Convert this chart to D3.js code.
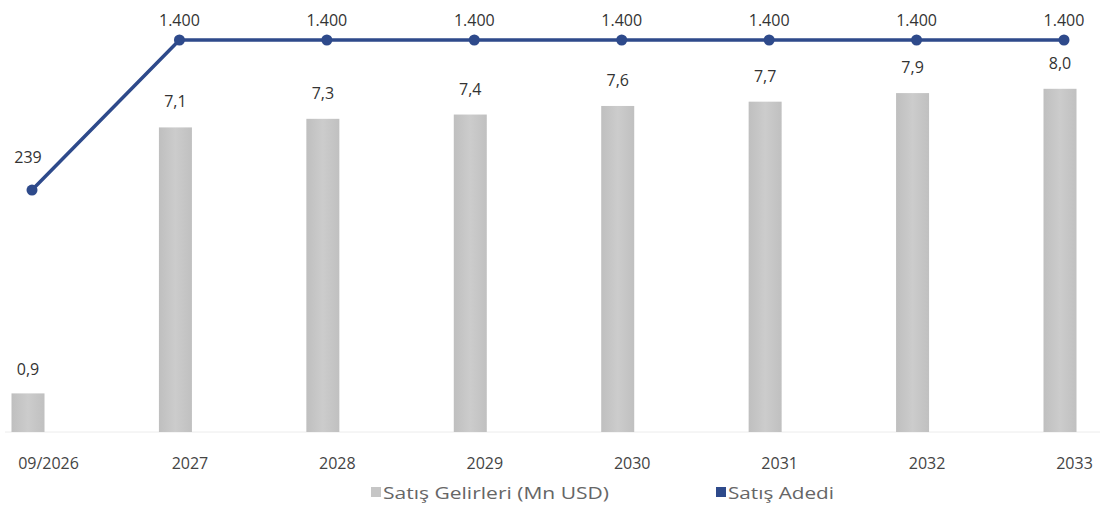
<!DOCTYPE html>
<html><head><meta charset="utf-8">
<script src="https://cdn.jsdelivr.net/npm/d3@7"></script>
<style>body{margin:0;background:#fff}svg{display:block}text{font-family:"Open Sans","Liberation Sans",sans-serif}</style>
</head><body><svg id="c" width="1114" height="510"></svg>
<script>
const categories = ["09/2026","2027","2028","2029","2030","2031","2032","2033"];
const revenue = [0.9,7.1,7.3,7.4,7.6,7.7,7.9,8.0];
const revenueLabels = ["0,9","7,1","7,3","7,4","7,6","7,7","7,9","8,0"];
const units = [239,1400,1400,1400,1400,1400,1400,1400];
const unitLabels = ["239","1.400","1.400","1.400","1.400","1.400","1.400","1.400"];
const legendNames = ["Satış Gelirleri (Mn USD)","Satış Adedi"];

const svg = d3.select("#c");
const x = d3.scalePoint().domain(categories).range([32, 1064]);
const yBar = d3.scaleLinear().domain([0, 10]).range([432, 3]);
const yLine = d3.scaleLinear().domain([0, 1400]).range([221, 40]);
const barW = 33;
const barColor = "#c6c6c6", lineColor = "#2e4a8b";

const defs = svg.append("defs");
const g = defs.append("linearGradient").attr("id","bg").attr("x1",0).attr("x2",1);
g.append("stop").attr("offset","0%").attr("stop-color","#bfbfbf");
g.append("stop").attr("offset","50%").attr("stop-color","#cccccc");
g.append("stop").attr("offset","100%").attr("stop-color","#c0c0c0");

svg.append("line").attr("x1",5).attr("x2",1100).attr("y1",yBar(0)).attr("y2",yBar(0))
  .attr("stroke","#ececec").attr("stroke-width",1);

svg.selectAll("rect.bar").data(revenue).join("rect").attr("class","bar")
  .attr("x",(d,i)=>x(categories[i]) - 4 - barW/2).attr("width",barW)
  .attr("y",d=>yBar(d)).attr("height",d=>yBar(0)-yBar(d)).attr("fill","url(#bg)");

svg.selectAll("text.bl").data(revenue).join("text").attr("class","bl")
  .attr("x",(d,i)=>x(categories[i]) - 4).attr("y",(d,i)=>yBar(d)-(i===0?18:20))
  .attr("text-anchor","middle").attr("font-size",16).attr("fill","#333")
  .text((d,i)=>revenueLabels[i]);

const line = d3.line().x((d,i)=>x(categories[i])).y(d=>yLine(d));
svg.append("path").datum(units).attr("d",line).attr("fill","none")
  .attr("stroke",lineColor).attr("stroke-width",3.5);
svg.selectAll("circle.pt").data(units).join("circle").attr("class","pt")
  .attr("cx",(d,i)=>x(categories[i])).attr("cy",d=>yLine(d)).attr("r",5.5).attr("fill",lineColor);
svg.selectAll("text.ll").data(units).join("text").attr("class","ll")
  .attr("x",(d,i)=>x(categories[i]) + (i===0?-4:0)).attr("y",(d,i)=>i===0?yLine(d)-27:yLine(d)-14)
  .attr("text-anchor","middle").attr("font-size",16).attr("fill","#333")
  .text((d,i)=>unitLabels[i]);

const ax = svg.append("g").attr("transform","translate(0,432)")
  .call(d3.axisBottom(x).tickSize(0).tickPadding(26));
ax.select(".domain").remove();
ax.selectAll("text").attr("font-size",16).attr("fill","#444").attr("dx",(d,i)=>i===0?16:10)
  .style("font-family",'"Open Sans","Liberation Sans",sans-serif');

const lg = svg.append("g");
const items = [{x:371,c:barColor,t:legendNames[0],w:226},{x:716,c:lineColor,t:legendNames[1],w:106}];
items.forEach(it=>{
  lg.append("rect").attr("x",it.x).attr("y",487).attr("width",10).attr("height",10).attr("fill",it.c);
  lg.append("text").attr("x",it.x+12).attr("y",499).attr("font-size",17).attr("fill","#666")
    .attr("textLength",it.w).attr("lengthAdjust","spacingAndGlyphs").text(it.t);
});
</script></body></html>
